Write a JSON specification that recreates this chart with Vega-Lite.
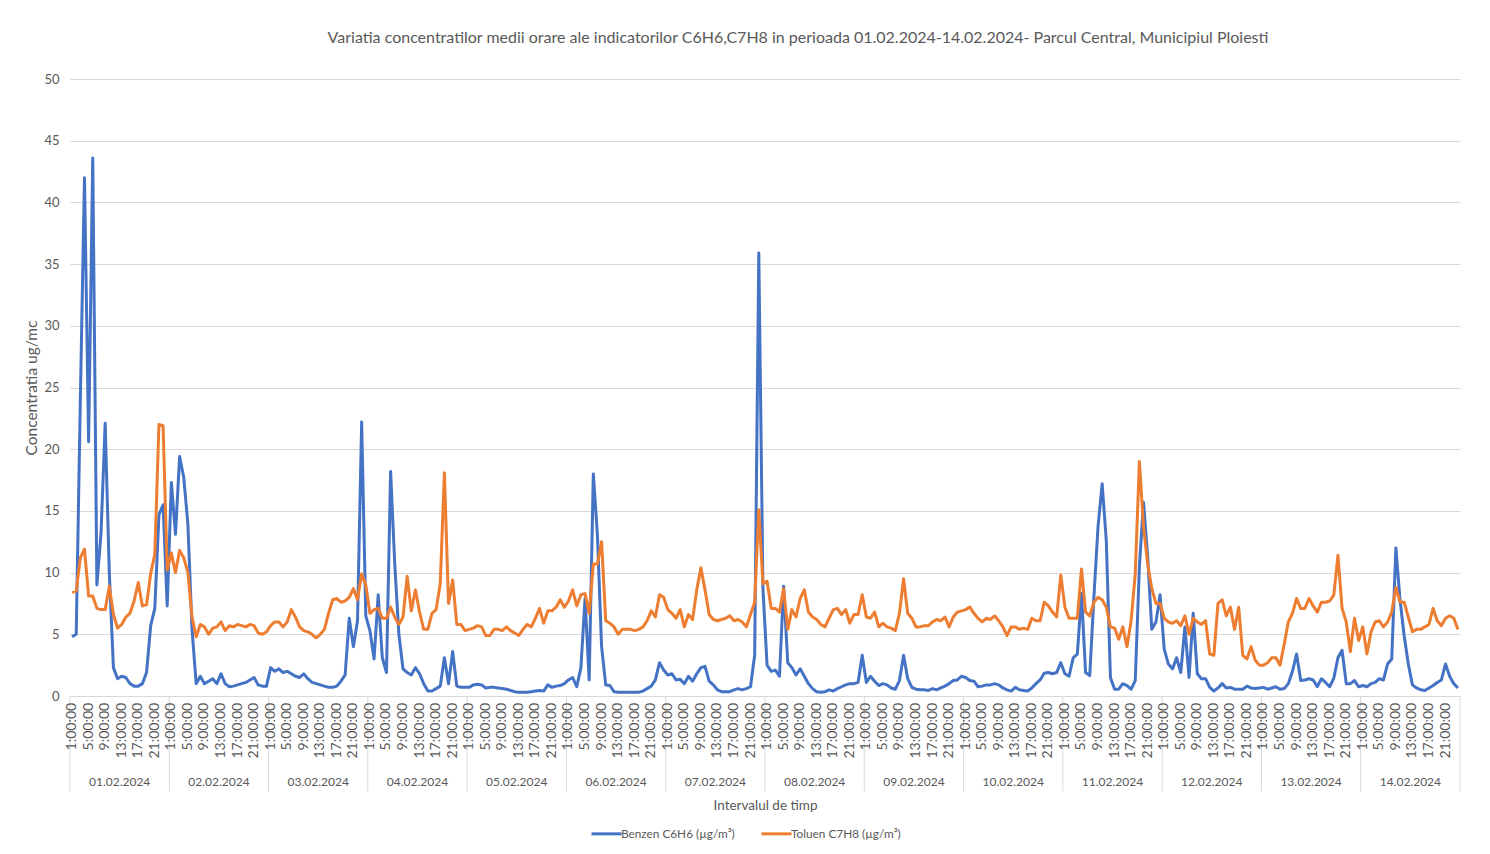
{
"$schema":"https://vega.github.io/schema/vega-lite/v6.json",
"width":1390,"height":617,
"autosize":{"type":"none"},
"padding":{"left":70,"top":79,"right":30,"bottom":158},
"background":"white",
"config":{"view":{"stroke":null},"font":"Lato"},
"title":{"text":"Variatia concentratilor medii orare ale indicatorilor C6H6,C7H8 in perioada 01.02.2024-14.02.2024- Parcul Central, Municipiul Ploiesti","fontSize":16,"font":"Lato","fontWeight":"normal","color":"#595959","anchor":"middle","offset":27,"dx":33},
"layer":[
{"data":{"values":[
{"d":"2024-02-01T01:00","b":4.8,"t":8.4},{"d":"2024-02-01T02:00","b":5.0,"t":8.5},{"d":"2024-02-01T03:00","b":24,"t":11.2},{"d":"2024-02-01T04:00","b":42,"t":11.9},{"d":"2024-02-01T05:00","b":20.6,"t":8.1},{"d":"2024-02-01T06:00","b":43.6,"t":8.1},{"d":"2024-02-01T07:00","b":9.0,"t":7.1},{"d":"2024-02-01T08:00","b":13.2,"t":7.0},{"d":"2024-02-01T09:00","b":22.1,"t":7.0},{"d":"2024-02-01T10:00","b":10,"t":8.9},{"d":"2024-02-01T11:00","b":2.3,"t":6.6},{"d":"2024-02-01T12:00","b":1.4,"t":5.5},{"d":"2024-02-01T13:00","b":1.6,"t":5.8},{"d":"2024-02-01T14:00","b":1.5,"t":6.4},{"d":"2024-02-01T15:00","b":1.0,"t":6.7},{"d":"2024-02-01T16:00","b":0.8,"t":7.7},{"d":"2024-02-01T17:00","b":0.8,"t":9.2},{"d":"2024-02-01T18:00","b":1.0,"t":7.3},{"d":"2024-02-01T19:00","b":1.9,"t":7.4},{"d":"2024-02-01T20:00","b":5.7,"t":9.9},{"d":"2024-02-01T21:00","b":7.1,"t":11.5},{"d":"2024-02-01T22:00","b":14.7,"t":22.0},{"d":"2024-02-01T23:00","b":15.5,"t":21.9},{"d":"2024-02-02T00:00","b":7.3,"t":10.2},
{"d":"2024-02-02T01:00","b":17.3,"t":11.6},{"d":"2024-02-02T02:00","b":13.1,"t":10.0},{"d":"2024-02-02T03:00","b":19.4,"t":11.8},{"d":"2024-02-02T04:00","b":17.7,"t":11.2},{"d":"2024-02-02T05:00","b":13.9,"t":10.0},{"d":"2024-02-02T06:00","b":5.4,"t":6.4},{"d":"2024-02-02T07:00","b":1.0,"t":4.8},{"d":"2024-02-02T08:00","b":1.6,"t":5.8},{"d":"2024-02-02T09:00","b":1.0,"t":5.6},{"d":"2024-02-02T10:00","b":1.2,"t":5.0},{"d":"2024-02-02T11:00","b":1.4,"t":5.5},{"d":"2024-02-02T12:00","b":1.0,"t":5.6},{"d":"2024-02-02T13:00","b":1.8,"t":6.0},{"d":"2024-02-02T14:00","b":1.0,"t":5.3},{"d":"2024-02-02T15:00","b":0.75,"t":5.7},{"d":"2024-02-02T16:00","b":0.8,"t":5.6},{"d":"2024-02-02T17:00","b":0.9,"t":5.8},{"d":"2024-02-02T18:00","b":1.0,"t":5.7},{"d":"2024-02-02T19:00","b":1.1,"t":5.6},{"d":"2024-02-02T20:00","b":1.3,"t":5.8},{"d":"2024-02-02T21:00","b":1.5,"t":5.7},{"d":"2024-02-02T22:00","b":0.9,"t":5.1},{"d":"2024-02-02T23:00","b":0.8,"t":5.0},{"d":"2024-02-03T00:00","b":0.8,"t":5.2},
{"d":"2024-02-03T01:00","b":2.3,"t":5.7},{"d":"2024-02-03T02:00","b":2.0,"t":6.0},{"d":"2024-02-03T03:00","b":2.2,"t":6.0},{"d":"2024-02-03T04:00","b":1.9,"t":5.6},{"d":"2024-02-03T05:00","b":2.0,"t":6.0},{"d":"2024-02-03T06:00","b":1.8,"t":7.0},{"d":"2024-02-03T07:00","b":1.6,"t":6.4},{"d":"2024-02-03T08:00","b":1.5,"t":5.6},{"d":"2024-02-03T09:00","b":1.8,"t":5.3},{"d":"2024-02-03T10:00","b":1.4,"t":5.2},{"d":"2024-02-03T11:00","b":1.1,"t":5.0},{"d":"2024-02-03T12:00","b":1.0,"t":4.7},{"d":"2024-02-03T13:00","b":0.9,"t":5.0},{"d":"2024-02-03T14:00","b":0.8,"t":5.4},{"d":"2024-02-03T15:00","b":0.7,"t":6.7},{"d":"2024-02-03T16:00","b":0.7,"t":7.8},{"d":"2024-02-03T17:00","b":0.8,"t":7.9},{"d":"2024-02-03T18:00","b":1.2,"t":7.6},{"d":"2024-02-03T19:00","b":1.7,"t":7.7},{"d":"2024-02-03T20:00","b":6.3,"t":8.0},{"d":"2024-02-03T21:00","b":4.0,"t":8.7},{"d":"2024-02-03T22:00","b":6.1,"t":7.8},{"d":"2024-02-03T23:00","b":22.2,"t":9.9},{"d":"2024-02-04T00:00","b":6.5,"t":9.0},
{"d":"2024-02-04T01:00","b":5.3,"t":6.7},{"d":"2024-02-04T02:00","b":3.0,"t":7.0},{"d":"2024-02-04T03:00","b":8.2,"t":7.1},{"d":"2024-02-04T04:00","b":3.1,"t":6.3},{"d":"2024-02-04T05:00","b":1.9,"t":6.3},{"d":"2024-02-04T06:00","b":18.2,"t":7.2},{"d":"2024-02-04T07:00","b":10.7,"t":6.4},{"d":"2024-02-04T08:00","b":5.0,"t":5.8},{"d":"2024-02-04T09:00","b":2.2,"t":6.4},{"d":"2024-02-04T10:00","b":1.9,"t":9.7},{"d":"2024-02-04T11:00","b":1.7,"t":6.9},{"d":"2024-02-04T12:00","b":2.3,"t":8.6},{"d":"2024-02-04T13:00","b":1.8,"t":6.8},{"d":"2024-02-04T14:00","b":1.0,"t":5.4},{"d":"2024-02-04T15:00","b":0.4,"t":5.4},{"d":"2024-02-04T16:00","b":0.4,"t":6.7},{"d":"2024-02-04T17:00","b":0.6,"t":7.0},{"d":"2024-02-04T18:00","b":0.8,"t":9.1},{"d":"2024-02-04T19:00","b":3.1,"t":18.1},{"d":"2024-02-04T20:00","b":1.0,"t":7.5},{"d":"2024-02-04T21:00","b":3.6,"t":9.4},{"d":"2024-02-04T22:00","b":0.8,"t":5.8},{"d":"2024-02-04T23:00","b":0.7,"t":5.8},{"d":"2024-02-05T00:00","b":0.7,"t":5.3},
{"d":"2024-02-05T01:00","b":0.7,"t":5.4},{"d":"2024-02-05T02:00","b":0.9,"t":5.5},{"d":"2024-02-05T03:00","b":0.95,"t":5.7},{"d":"2024-02-05T04:00","b":0.9,"t":5.6},{"d":"2024-02-05T05:00","b":0.65,"t":4.9},{"d":"2024-02-05T06:00","b":0.7,"t":4.9},{"d":"2024-02-05T07:00","b":0.7,"t":5.4},{"d":"2024-02-05T08:00","b":0.65,"t":5.4},{"d":"2024-02-05T09:00","b":0.6,"t":5.3},{"d":"2024-02-05T10:00","b":0.55,"t":5.6},{"d":"2024-02-05T11:00","b":0.45,"t":5.3},{"d":"2024-02-05T12:00","b":0.35,"t":5.1},{"d":"2024-02-05T13:00","b":0.3,"t":4.9},{"d":"2024-02-05T14:00","b":0.3,"t":5.4},{"d":"2024-02-05T15:00","b":0.3,"t":5.8},{"d":"2024-02-05T16:00","b":0.35,"t":5.6},{"d":"2024-02-05T17:00","b":0.4,"t":6.3},{"d":"2024-02-05T18:00","b":0.45,"t":7.1},{"d":"2024-02-05T19:00","b":0.4,"t":5.9},{"d":"2024-02-05T20:00","b":0.9,"t":6.9},{"d":"2024-02-05T21:00","b":0.7,"t":6.9},{"d":"2024-02-05T22:00","b":0.8,"t":7.2},{"d":"2024-02-05T23:00","b":0.85,"t":7.8},{"d":"2024-02-06T00:00","b":1.0,"t":7.2},
{"d":"2024-02-06T01:00","b":1.3,"t":7.7},{"d":"2024-02-06T02:00","b":1.5,"t":8.6},{"d":"2024-02-06T03:00","b":0.75,"t":7.3},{"d":"2024-02-06T04:00","b":2.3,"t":8.2},{"d":"2024-02-06T05:00","b":7.9,"t":8.3},{"d":"2024-02-06T06:00","b":1.3,"t":6.7},{"d":"2024-02-06T07:00","b":18.0,"t":10.7},{"d":"2024-02-06T08:00","b":13.0,"t":10.7},{"d":"2024-02-06T09:00","b":4.0,"t":12.5},{"d":"2024-02-06T10:00","b":0.9,"t":6.1},{"d":"2024-02-06T11:00","b":0.85,"t":5.9},{"d":"2024-02-06T12:00","b":0.35,"t":5.6},{"d":"2024-02-06T13:00","b":0.3,"t":5.0},{"d":"2024-02-06T14:00","b":0.3,"t":5.4},{"d":"2024-02-06T15:00","b":0.3,"t":5.4},{"d":"2024-02-06T16:00","b":0.3,"t":5.4},{"d":"2024-02-06T17:00","b":0.3,"t":5.3},{"d":"2024-02-06T18:00","b":0.3,"t":5.4},{"d":"2024-02-06T19:00","b":0.4,"t":5.6},{"d":"2024-02-06T20:00","b":0.6,"t":6.1},{"d":"2024-02-06T21:00","b":0.8,"t":6.9},{"d":"2024-02-06T22:00","b":1.3,"t":6.4},{"d":"2024-02-06T23:00","b":2.7,"t":8.2},{"d":"2024-02-07T00:00","b":2.1,"t":8.0},
{"d":"2024-02-07T01:00","b":1.7,"t":7.0},{"d":"2024-02-07T02:00","b":1.8,"t":6.7},{"d":"2024-02-07T03:00","b":1.3,"t":6.3},{"d":"2024-02-07T04:00","b":1.35,"t":7.0},{"d":"2024-02-07T05:00","b":1.0,"t":5.6},{"d":"2024-02-07T06:00","b":1.6,"t":6.6},{"d":"2024-02-07T07:00","b":1.2,"t":6.2},{"d":"2024-02-07T08:00","b":1.8,"t":8.6},{"d":"2024-02-07T09:00","b":2.3,"t":10.4},{"d":"2024-02-07T10:00","b":2.4,"t":8.6},{"d":"2024-02-07T11:00","b":1.2,"t":6.6},{"d":"2024-02-07T12:00","b":0.9,"t":6.2},{"d":"2024-02-07T13:00","b":0.5,"t":6.1},{"d":"2024-02-07T14:00","b":0.35,"t":6.2},{"d":"2024-02-07T15:00","b":0.35,"t":6.3},{"d":"2024-02-07T16:00","b":0.35,"t":6.5},{"d":"2024-02-07T17:00","b":0.5,"t":6.1},{"d":"2024-02-07T18:00","b":0.6,"t":6.2},{"d":"2024-02-07T19:00","b":0.5,"t":6.0},{"d":"2024-02-07T20:00","b":0.6,"t":5.6},{"d":"2024-02-07T21:00","b":0.75,"t":6.6},{"d":"2024-02-07T22:00","b":3.3,"t":7.6},{"d":"2024-02-07T23:00","b":35.9,"t":15.1},{"d":"2024-02-08T00:00","b":8.7,"t":9.1},
{"d":"2024-02-08T01:00","b":2.5,"t":9.3},{"d":"2024-02-08T02:00","b":2.0,"t":7.1},{"d":"2024-02-08T03:00","b":2.1,"t":7.1},{"d":"2024-02-08T04:00","b":1.6,"t":6.8},{"d":"2024-02-08T05:00","b":8.9,"t":8.7},{"d":"2024-02-08T06:00","b":2.7,"t":5.4},{"d":"2024-02-08T07:00","b":2.3,"t":7.0},{"d":"2024-02-08T08:00","b":1.7,"t":6.4},{"d":"2024-02-08T09:00","b":2.2,"t":7.9},{"d":"2024-02-08T10:00","b":1.6,"t":8.6},{"d":"2024-02-08T11:00","b":1.0,"t":6.8},{"d":"2024-02-08T12:00","b":0.6,"t":6.4},{"d":"2024-02-08T13:00","b":0.35,"t":6.2},{"d":"2024-02-08T14:00","b":0.3,"t":5.8},{"d":"2024-02-08T15:00","b":0.35,"t":5.6},{"d":"2024-02-08T16:00","b":0.5,"t":6.3},{"d":"2024-02-08T17:00","b":0.4,"t":7.0},{"d":"2024-02-08T18:00","b":0.6,"t":7.1},{"d":"2024-02-08T19:00","b":0.75,"t":6.6},{"d":"2024-02-08T20:00","b":0.9,"t":7.0},{"d":"2024-02-08T21:00","b":1.0,"t":5.9},{"d":"2024-02-08T22:00","b":1.0,"t":6.6},{"d":"2024-02-08T23:00","b":1.1,"t":6.6},{"d":"2024-02-09T00:00","b":3.3,"t":8.2},
{"d":"2024-02-09T01:00","b":1.1,"t":6.4},{"d":"2024-02-09T02:00","b":1.6,"t":6.3},{"d":"2024-02-09T03:00","b":1.2,"t":6.8},{"d":"2024-02-09T04:00","b":0.85,"t":5.6},{"d":"2024-02-09T05:00","b":1.0,"t":5.9},{"d":"2024-02-09T06:00","b":0.9,"t":5.6},{"d":"2024-02-09T07:00","b":0.65,"t":5.5},{"d":"2024-02-09T08:00","b":0.55,"t":5.3},{"d":"2024-02-09T09:00","b":1.25,"t":6.7},{"d":"2024-02-09T10:00","b":3.3,"t":9.5},{"d":"2024-02-09T11:00","b":1.4,"t":6.7},{"d":"2024-02-09T12:00","b":0.7,"t":6.3},{"d":"2024-02-09T13:00","b":0.55,"t":5.6},{"d":"2024-02-09T14:00","b":0.5,"t":5.6},{"d":"2024-02-09T15:00","b":0.5,"t":5.7},{"d":"2024-02-09T16:00","b":0.45,"t":5.7},{"d":"2024-02-09T17:00","b":0.6,"t":6.0},{"d":"2024-02-09T18:00","b":0.5,"t":6.2},{"d":"2024-02-09T19:00","b":0.65,"t":6.1},{"d":"2024-02-09T20:00","b":0.8,"t":6.4},{"d":"2024-02-09T21:00","b":1.0,"t":5.6},{"d":"2024-02-09T22:00","b":1.25,"t":6.4},{"d":"2024-02-09T23:00","b":1.3,"t":6.8},{"d":"2024-02-10T00:00","b":1.6,"t":6.9},
{"d":"2024-02-10T01:00","b":1.5,"t":7.0},{"d":"2024-02-10T02:00","b":1.25,"t":7.2},{"d":"2024-02-10T03:00","b":1.2,"t":6.7},{"d":"2024-02-10T04:00","b":0.75,"t":6.3},{"d":"2024-02-10T05:00","b":0.8,"t":6.0},{"d":"2024-02-10T06:00","b":0.9,"t":6.3},{"d":"2024-02-10T07:00","b":0.9,"t":6.2},{"d":"2024-02-10T08:00","b":1.0,"t":6.5},{"d":"2024-02-10T09:00","b":0.9,"t":6.1},{"d":"2024-02-10T10:00","b":0.65,"t":5.6},{"d":"2024-02-10T11:00","b":0.5,"t":4.9},{"d":"2024-02-10T12:00","b":0.4,"t":5.6},{"d":"2024-02-10T13:00","b":0.7,"t":5.6},{"d":"2024-02-10T14:00","b":0.5,"t":5.4},{"d":"2024-02-10T15:00","b":0.45,"t":5.5},{"d":"2024-02-10T16:00","b":0.4,"t":5.4},{"d":"2024-02-10T17:00","b":0.65,"t":6.3},{"d":"2024-02-10T18:00","b":1.0,"t":6.1},{"d":"2024-02-10T19:00","b":1.3,"t":6.1},{"d":"2024-02-10T20:00","b":1.85,"t":7.6},{"d":"2024-02-10T21:00","b":1.9,"t":7.3},{"d":"2024-02-10T22:00","b":1.8,"t":6.8},{"d":"2024-02-10T23:00","b":1.9,"t":6.4},{"d":"2024-02-11T00:00","b":2.7,"t":9.8},
{"d":"2024-02-11T01:00","b":1.8,"t":7.2},{"d":"2024-02-11T02:00","b":1.6,"t":6.3},{"d":"2024-02-11T03:00","b":3.1,"t":6.3},{"d":"2024-02-11T04:00","b":3.4,"t":6.3},{"d":"2024-02-11T05:00","b":8.3,"t":10.3},{"d":"2024-02-11T06:00","b":1.9,"t":6.8},{"d":"2024-02-11T07:00","b":1.65,"t":6.5},{"d":"2024-02-11T08:00","b":8.0,"t":7.6},{"d":"2024-02-11T09:00","b":13.7,"t":8.0},{"d":"2024-02-11T10:00","b":17.2,"t":7.8},{"d":"2024-02-11T11:00","b":12.6,"t":7.2},{"d":"2024-02-11T12:00","b":1.5,"t":5.6},{"d":"2024-02-11T13:00","b":0.55,"t":5.5},{"d":"2024-02-11T14:00","b":0.55,"t":4.6},{"d":"2024-02-11T15:00","b":1.0,"t":5.6},{"d":"2024-02-11T16:00","b":0.85,"t":4.0},{"d":"2024-02-11T17:00","b":0.55,"t":6.1},{"d":"2024-02-11T18:00","b":1.25,"t":9.9},{"d":"2024-02-11T19:00","b":10.5,"t":19.0},{"d":"2024-02-11T20:00","b":15.7,"t":13.7},{"d":"2024-02-11T21:00","b":11.3,"t":10.7},{"d":"2024-02-11T22:00","b":5.4,"t":8.7},{"d":"2024-02-11T23:00","b":6.0,"t":7.5},{"d":"2024-02-12T00:00","b":8.2,"t":7.5},
{"d":"2024-02-12T01:00","b":3.8,"t":6.3},{"d":"2024-02-12T02:00","b":2.6,"t":6.0},{"d":"2024-02-12T03:00","b":2.2,"t":5.9},{"d":"2024-02-12T04:00","b":3.1,"t":6.1},{"d":"2024-02-12T05:00","b":1.9,"t":5.7},{"d":"2024-02-12T06:00","b":5.6,"t":6.5},{"d":"2024-02-12T07:00","b":1.5,"t":5.0},{"d":"2024-02-12T08:00","b":6.7,"t":6.3},{"d":"2024-02-12T09:00","b":1.8,"t":6.0},{"d":"2024-02-12T10:00","b":1.4,"t":5.8},{"d":"2024-02-12T11:00","b":1.4,"t":6.1},{"d":"2024-02-12T12:00","b":0.7,"t":3.4},{"d":"2024-02-12T13:00","b":0.4,"t":3.3},{"d":"2024-02-12T14:00","b":0.65,"t":7.5},{"d":"2024-02-12T15:00","b":1.0,"t":7.8},{"d":"2024-02-12T16:00","b":0.65,"t":6.5},{"d":"2024-02-12T17:00","b":0.7,"t":7.2},{"d":"2024-02-12T18:00","b":0.55,"t":5.4},{"d":"2024-02-12T19:00","b":0.55,"t":7.2},{"d":"2024-02-12T20:00","b":0.55,"t":3.3},{"d":"2024-02-12T21:00","b":0.8,"t":3.0},{"d":"2024-02-12T22:00","b":0.65,"t":4.0},{"d":"2024-02-12T23:00","b":0.6,"t":2.9},{"d":"2024-02-13T00:00","b":0.65,"t":2.5},
{"d":"2024-02-13T01:00","b":0.7,"t":2.5},{"d":"2024-02-13T02:00","b":0.55,"t":2.7},{"d":"2024-02-13T03:00","b":0.65,"t":3.1},{"d":"2024-02-13T04:00","b":0.75,"t":3.1},{"d":"2024-02-13T05:00","b":0.55,"t":2.5},{"d":"2024-02-13T06:00","b":0.6,"t":4.2},{"d":"2024-02-13T07:00","b":1.0,"t":6.0},{"d":"2024-02-13T08:00","b":2.0,"t":6.7},{"d":"2024-02-13T09:00","b":3.4,"t":7.9},{"d":"2024-02-13T10:00","b":1.25,"t":7.1},{"d":"2024-02-13T11:00","b":1.3,"t":7.1},{"d":"2024-02-13T12:00","b":1.4,"t":7.9},{"d":"2024-02-13T13:00","b":1.3,"t":7.3},{"d":"2024-02-13T14:00","b":0.75,"t":6.8},{"d":"2024-02-13T15:00","b":1.4,"t":7.6},{"d":"2024-02-13T16:00","b":1.1,"t":7.6},{"d":"2024-02-13T17:00","b":0.75,"t":7.7},{"d":"2024-02-13T18:00","b":1.45,"t":8.2},{"d":"2024-02-13T19:00","b":3.1,"t":11.4},{"d":"2024-02-13T20:00","b":3.7,"t":7.1},{"d":"2024-02-13T21:00","b":1.0,"t":6.0},{"d":"2024-02-13T22:00","b":1.0,"t":3.6},{"d":"2024-02-13T23:00","b":1.25,"t":6.3},{"d":"2024-02-14T00:00","b":0.75,"t":4.5},
{"d":"2024-02-14T01:00","b":0.85,"t":5.6},{"d":"2024-02-14T02:00","b":0.75,"t":3.4},{"d":"2024-02-14T03:00","b":1.0,"t":5.2},{"d":"2024-02-14T04:00","b":1.1,"t":6.0},{"d":"2024-02-14T05:00","b":1.4,"t":6.1},{"d":"2024-02-14T06:00","b":1.3,"t":5.6},{"d":"2024-02-14T07:00","b":2.6,"t":6.0},{"d":"2024-02-14T08:00","b":3.0,"t":6.8},{"d":"2024-02-14T09:00","b":12.0,"t":8.8},{"d":"2024-02-14T10:00","b":7.8,"t":7.6},{"d":"2024-02-14T11:00","b":4.9,"t":7.6},{"d":"2024-02-14T12:00","b":2.6,"t":6.4},{"d":"2024-02-14T13:00","b":0.9,"t":5.2},{"d":"2024-02-14T14:00","b":0.65,"t":5.4},{"d":"2024-02-14T15:00","b":0.5,"t":5.4},{"d":"2024-02-14T16:00","b":0.45,"t":5.6},{"d":"2024-02-14T17:00","b":0.65,"t":5.8},{"d":"2024-02-14T18:00","b":0.85,"t":7.1},{"d":"2024-02-14T19:00","b":1.1,"t":6.1},{"d":"2024-02-14T20:00","b":1.3,"t":5.7},{"d":"2024-02-14T21:00","b":2.6,"t":6.3},{"d":"2024-02-14T22:00","b":1.6,"t":6.5},{"d":"2024-02-14T23:00","b":1.0,"t":6.3},{"d":"2024-02-15T00:00","b":0.65,"t":5.4}
]},
 "transform":[{"fold":["b","t"],"as":["s","v"]}],
 "mark":{"type":"line","strokeWidth":3,"strokeJoin":"round"},
 "encoding":{
  "x":{"field":"d","type":"temporal",
   "scale":{"domain":[{"year":2024,"month":2,"date":1,"hours":0,"minutes":30},{"year":2024,"month":2,"date":15,"hours":0,"minutes":30}],"nice":false},
   "axis":{"labels":false,"ticks":false,"grid":false,"domain":true,"domainColor":"#d9d9d9","domainWidth":1,
    "title":"Intervalul de timp","titleFont":"Lato","titleFontSize":13.5,"titleFontWeight":"normal","titleColor":"#595959","titlePadding":102}},
  "y":{"field":"v","type":"quantitative","scale":{"domain":[0,50],"nice":false},
   "axis":{"tickCount":10,"grid":true,"gridColor":"#d9d9d9","domain":false,"ticks":false,
    "labelFont":"Lato","labelColor":"#595959","labelFontSize":13,"labelPadding":11,
    "title":"Concentratia ug/mc","titleFont":"Lato","titleFontSize":15.5,"titleFontWeight":"normal","titleColor":"#595959","titlePadding":4}},
  "color":{"field":"s","type":"nominal",
   "scale":{"domain":["b","t"],"range":["#4472C4","#ED7D31"]},
   "legend":{"orient":"none","legendX":520,"legendY":738,"direction":"horizontal","title":null,
    "labelExpr":"datum.value == 'b' ? 'Benzen C6H6 (µg/m³)' : 'Toluen C7H8 (µg/m³)'",
    "symbolType":"stroke","symbolSize":900,"symbolStrokeWidth":3,
    "labelFont":"Lato","labelFontSize":11.8,"labelColor":"#595959","columnPadding":20,"labelOffset":-2}}
 }},
{"data":{"values":[{"d":"2024-02-01T00:30"},{"d":"2024-02-02T00:30"},{"d":"2024-02-03T00:30"},{"d":"2024-02-04T00:30"},{"d":"2024-02-05T00:30"},{"d":"2024-02-06T00:30"},{"d":"2024-02-07T00:30"},{"d":"2024-02-08T00:30"},{"d":"2024-02-09T00:30"},{"d":"2024-02-10T00:30"},{"d":"2024-02-11T00:30"},{"d":"2024-02-12T00:30"},{"d":"2024-02-13T00:30"},{"d":"2024-02-14T00:30"},{"d":"2024-02-15T00:30"}]},
 "mark":{"type":"rule","color":"#d9d9d9","strokeWidth":1},
 "encoding":{
  "x":{"field":"d","type":"temporal"},
  "y":{"datum":0,"type":"quantitative"},
  "y2":{"datum":-7.75}
 }},
{"data":{"values":[{"d":"2024-02-01T12:30","l":"01.02.2024"},{"d":"2024-02-02T12:30","l":"02.02.2024"},{"d":"2024-02-03T12:30","l":"03.02.2024"},{"d":"2024-02-04T12:30","l":"04.02.2024"},{"d":"2024-02-05T12:30","l":"05.02.2024"},{"d":"2024-02-06T12:30","l":"06.02.2024"},{"d":"2024-02-07T12:30","l":"07.02.2024"},{"d":"2024-02-08T12:30","l":"08.02.2024"},{"d":"2024-02-09T12:30","l":"09.02.2024"},{"d":"2024-02-10T12:30","l":"10.02.2024"},{"d":"2024-02-11T12:30","l":"11.02.2024"},{"d":"2024-02-12T12:30","l":"12.02.2024"},{"d":"2024-02-13T12:30","l":"13.02.2024"},{"d":"2024-02-14T12:30","l":"14.02.2024"}]},
 "mark":{"type":"text","font":"Lato","fontSize":12,"color":"#595959","baseline":"middle","align":"center"},
 "encoding":{
  "x":{"field":"d","type":"temporal"},
  "y":{"datum":-7.0,"type":"quantitative"},
  "text":{"field":"l"}
 }},
{"data":{"values":[
{"d":"2024-02-01T01:00","h":"1:00:00"},{"d":"2024-02-01T05:00","h":"5:00:00"},{"d":"2024-02-01T09:00","h":"9:00:00"},{"d":"2024-02-01T13:00","h":"13:00:00"},{"d":"2024-02-01T17:00","h":"17:00:00"},{"d":"2024-02-01T21:00","h":"21:00:00"},
{"d":"2024-02-02T01:00","h":"1:00:00"},{"d":"2024-02-02T05:00","h":"5:00:00"},{"d":"2024-02-02T09:00","h":"9:00:00"},{"d":"2024-02-02T13:00","h":"13:00:00"},{"d":"2024-02-02T17:00","h":"17:00:00"},{"d":"2024-02-02T21:00","h":"21:00:00"},
{"d":"2024-02-03T01:00","h":"1:00:00"},{"d":"2024-02-03T05:00","h":"5:00:00"},{"d":"2024-02-03T09:00","h":"9:00:00"},{"d":"2024-02-03T13:00","h":"13:00:00"},{"d":"2024-02-03T17:00","h":"17:00:00"},{"d":"2024-02-03T21:00","h":"21:00:00"},
{"d":"2024-02-04T01:00","h":"1:00:00"},{"d":"2024-02-04T05:00","h":"5:00:00"},{"d":"2024-02-04T09:00","h":"9:00:00"},{"d":"2024-02-04T13:00","h":"13:00:00"},{"d":"2024-02-04T17:00","h":"17:00:00"},{"d":"2024-02-04T21:00","h":"21:00:00"},
{"d":"2024-02-05T01:00","h":"1:00:00"},{"d":"2024-02-05T05:00","h":"5:00:00"},{"d":"2024-02-05T09:00","h":"9:00:00"},{"d":"2024-02-05T13:00","h":"13:00:00"},{"d":"2024-02-05T17:00","h":"17:00:00"},{"d":"2024-02-05T21:00","h":"21:00:00"},
{"d":"2024-02-06T01:00","h":"1:00:00"},{"d":"2024-02-06T05:00","h":"5:00:00"},{"d":"2024-02-06T09:00","h":"9:00:00"},{"d":"2024-02-06T13:00","h":"13:00:00"},{"d":"2024-02-06T17:00","h":"17:00:00"},{"d":"2024-02-06T21:00","h":"21:00:00"},
{"d":"2024-02-07T01:00","h":"1:00:00"},{"d":"2024-02-07T05:00","h":"5:00:00"},{"d":"2024-02-07T09:00","h":"9:00:00"},{"d":"2024-02-07T13:00","h":"13:00:00"},{"d":"2024-02-07T17:00","h":"17:00:00"},{"d":"2024-02-07T21:00","h":"21:00:00"},
{"d":"2024-02-08T01:00","h":"1:00:00"},{"d":"2024-02-08T05:00","h":"5:00:00"},{"d":"2024-02-08T09:00","h":"9:00:00"},{"d":"2024-02-08T13:00","h":"13:00:00"},{"d":"2024-02-08T17:00","h":"17:00:00"},{"d":"2024-02-08T21:00","h":"21:00:00"},
{"d":"2024-02-09T01:00","h":"1:00:00"},{"d":"2024-02-09T05:00","h":"5:00:00"},{"d":"2024-02-09T09:00","h":"9:00:00"},{"d":"2024-02-09T13:00","h":"13:00:00"},{"d":"2024-02-09T17:00","h":"17:00:00"},{"d":"2024-02-09T21:00","h":"21:00:00"},
{"d":"2024-02-10T01:00","h":"1:00:00"},{"d":"2024-02-10T05:00","h":"5:00:00"},{"d":"2024-02-10T09:00","h":"9:00:00"},{"d":"2024-02-10T13:00","h":"13:00:00"},{"d":"2024-02-10T17:00","h":"17:00:00"},{"d":"2024-02-10T21:00","h":"21:00:00"},
{"d":"2024-02-11T01:00","h":"1:00:00"},{"d":"2024-02-11T05:00","h":"5:00:00"},{"d":"2024-02-11T09:00","h":"9:00:00"},{"d":"2024-02-11T13:00","h":"13:00:00"},{"d":"2024-02-11T17:00","h":"17:00:00"},{"d":"2024-02-11T21:00","h":"21:00:00"},
{"d":"2024-02-12T01:00","h":"1:00:00"},{"d":"2024-02-12T05:00","h":"5:00:00"},{"d":"2024-02-12T09:00","h":"9:00:00"},{"d":"2024-02-12T13:00","h":"13:00:00"},{"d":"2024-02-12T17:00","h":"17:00:00"},{"d":"2024-02-12T21:00","h":"21:00:00"},
{"d":"2024-02-13T01:00","h":"1:00:00"},{"d":"2024-02-13T05:00","h":"5:00:00"},{"d":"2024-02-13T09:00","h":"9:00:00"},{"d":"2024-02-13T13:00","h":"13:00:00"},{"d":"2024-02-13T17:00","h":"17:00:00"},{"d":"2024-02-13T21:00","h":"21:00:00"},
{"d":"2024-02-14T01:00","h":"1:00:00"},{"d":"2024-02-14T05:00","h":"5:00:00"},{"d":"2024-02-14T09:00","h":"9:00:00"},{"d":"2024-02-14T13:00","h":"13:00:00"},{"d":"2024-02-14T17:00","h":"17:00:00"},{"d":"2024-02-14T21:00","h":"21:00:00"}
]},
 "mark":{"type":"text","font":"Lato","fontSize":14,"color":"#595959","angle":270,"align":"right","baseline":"middle"},
 "encoding":{
  "x":{"field":"d","type":"temporal"},
  "y":{"datum":-0.55,"type":"quantitative"},
  "text":{"field":"h"}
 }}
]
}
